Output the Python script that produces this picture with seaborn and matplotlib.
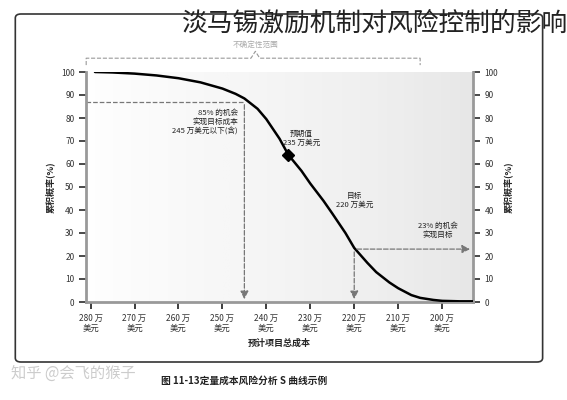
import numpy as np
import matplotlib
matplotlib.use("Agg")
import matplotlib.pyplot as plt
import seaborn as sns
from matplotlib.patches import FancyBboxPatch

sns.set_theme(style="white")
plt.rcParams['font.family'] = ['Noto Sans CJK SC', 'DejaVu Sans']

# data (cost in 万美元, cumulative probability %)
cost = [279, 275, 270, 265, 260, 255, 250, 247, 245, 242, 240, 237, 235, 232, 230, 227, 225, 222, 220, 217, 215, 212, 210, 207, 205, 202, 200, 196, 192]
prob = [100, 99.8, 99.3, 98.5, 97.3, 95.5, 92.8, 90.5, 88.5, 84, 79.5, 71, 64, 57, 51.5, 44, 38.5, 30, 23.5, 17, 13, 8.5, 6, 3, 1.8, 0.9, 0.5, 0.3, 0.3]
tick_costs = [280, 270, 260, 250, 240, 230, 220, 210, 200]
tick_labels = [f"{c} 万\n美元" for c in tick_costs]
yticks = [0, 10, 20, 30, 40, 50, 60, 70, 80, 90, 100]

fig = plt.figure(figsize=(5.67, 4.0), dpi=100)
fig.patch.set_facecolor("white")
# outer rounded frame
fig.patches.append(FancyBboxPatch((0.027, 0.095), 0.93, 0.87, boxstyle="round,pad=0,rounding_size=0.01",
                                  transform=fig.transFigure, fill=False, ec="#333333", lw=1.2))

ax = fig.add_axes([0.152, 0.245, 0.682, 0.575])
ax.set_xlim(281, 193)
ax.set_ylim(0, 100)

# light gray gradient background
grad = np.linspace(0, 1, 256).reshape(1, -1)
ax.imshow(grad, extent=[281, 193, 0, 100], aspect="auto", cmap="Greys", vmin=-0.05, vmax=6, zorder=0)

sns.lineplot(x=cost, y=prob, ax=ax, color="black", lw=1.8, zorder=3)
ax.plot([235], [64], marker="D", color="black", ms=6, zorder=4)

dash = dict(color="#777777", lw=0.9, ls="--")
arrow = dict(arrowstyle="-|>", color="#777777", ls="--", lw=0.9)
ax.plot([281, 245], [87, 87], **dash)
ax.annotate("", xy=(245, 0), xytext=(245, 87), arrowprops=arrow)
ax.annotate("", xy=(220, 0), xytext=(220, 23), arrowprops=arrow)
ax.annotate("", xy=(193, 23), xytext=(220, 23), arrowprops=arrow)

ax.text(246.5, 84, "85% 的机会\n实现目标成本\n245 万美元以下(含)", fontsize=5.5, ha="right", va="top", color="#222222")
ax.text(232, 75, "预期值\n235 万美元", fontsize=5.5, ha="center", va="top", color="#222222")
ax.text(220, 48, "目标\n220 万美元", fontsize=5.5, ha="center", va="top", color="#222222")
ax.text(201, 35, "23% 的机会\n实现目标", fontsize=5.5, ha="center", va="top", color="#222222")

ax.set_xticks(tick_costs)
ax.set_xticklabels(tick_labels, fontsize=6, color="#333333")
ax.set_yticks(yticks)
ax.tick_params(axis="y", labelsize=6, colors="#333333", length=5, right=True, labelright=True, left=True)
ax.tick_params(axis="x", length=5, bottom=True)
ax.spines["top"].set_visible(False)
for s in ["left", "right", "bottom"]:
    ax.spines[s].set_color("#999999")
    ax.spines[s].set_linewidth(2)
ax.set_xlabel("预计项目总成本", fontsize=6.5, fontweight="bold", labelpad=4)
ax.set_ylabel("累积概率(%)", fontsize=6.5, fontweight="bold")
ax2 = ax.secondary_yaxis("right")
ax2.set_yticks([])
ax2.set_ylabel("累积概率(%)", fontsize=6.5, fontweight="bold", labelpad=22)
ax2.spines["right"].set_visible(False)

# uncertainty range brace above the plot
bc = dict(ls="--", color="#999999", lw=0.8, clip_on=False)
ax.plot([281, 281, 243.5, 242.5, 241.5, 205, 205], [103, 106, 106, 109, 106, 106, 103], **bc)
ax.text(242.5, 110, "不确定性范围", fontsize=5.5, color="#aaaaaa", ha="center", va="bottom")

fig.text(1.0, 0.94, "淡马锡激励机制对风险控制的影响", fontsize=18.5, fontweight="light", ha="right", va="center", color="#222222")
fig.text(0.43, 0.04, "图 11-13定量成本风险分析 S 曲线示例", fontsize=7, fontweight="bold", ha="center", color="#222222")
fig.text(0.02, 0.055, "知乎 @会飞的猴子", fontsize=11, color="#cccccc")

fig.savefig("out.png", dpi=100)
